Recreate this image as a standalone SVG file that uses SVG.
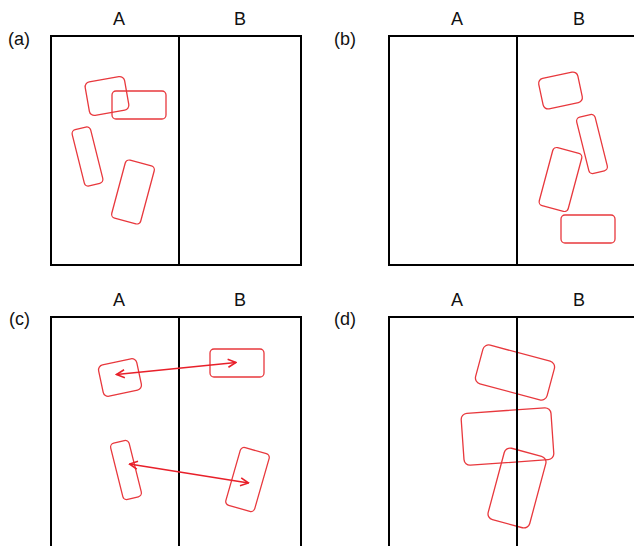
<svg xmlns="http://www.w3.org/2000/svg" width="634" height="546" viewBox="0 0 634 546">
<style>
.lbl{font-family:"Liberation Sans",Arial,sans-serif;font-size:18px;fill:#111;text-anchor:middle}
.tag{font-family:"Liberation Sans",Arial,sans-serif;font-size:18px;fill:#111}
.frame{fill:none;stroke:#000;stroke-width:2}
.div{stroke:#000;stroke-width:2}
.obj{fill:none;stroke:#e8383d;stroke-width:1.3}
.conn{fill:none;stroke:#e8202a;stroke-width:1.6}
</style>
<defs>
<marker id="ah" viewBox="0 0 10 10" refX="9" refY="5" markerWidth="10" markerHeight="10" markerUnits="userSpaceOnUse" orient="auto-start-reverse">
<path d="M1,1 L9,5 L1,9" fill="none" stroke="#e8202a" stroke-width="1.6"/>
</marker>
</defs>
<rect width="634" height="546" fill="#fff"/>

<g id="panel-a">
<text class="tag" x="8" y="45">(a)</text>
<text class="lbl" x="119" y="25">A</text>
<text class="lbl" x="240" y="25">B</text>
<g id="a-obj1"><rect class="obj" x="-20" y="-17" width="40" height="34" rx="5" transform="translate(107 96) rotate(-10)"/></g>
<g id="a-obj2"><rect class="obj" x="112" y="91" width="54" height="28" rx="4"/></g>
<g id="a-obj3"><rect class="obj" x="-9.5" y="-29" width="19" height="58" rx="4" transform="translate(87.5 156.5) rotate(-14)"/></g>
<g id="a-obj4"><rect class="obj" x="-15" y="-30" width="30" height="60" rx="4" transform="translate(133 192) rotate(15)"/></g>
<rect class="frame" x="51" y="36" width="250" height="229"/>
<line class="div" x1="179" y1="36" x2="179" y2="265"/>
</g>

<g id="panel-b">
<text class="tag" x="334" y="45">(b)</text>
<text class="lbl" x="457" y="25">A</text>
<text class="lbl" x="579" y="25">B</text>
<g id="b-obj1"><rect class="obj" x="-20" y="-15.5" width="40" height="31" rx="5" transform="translate(560.5 90.5) rotate(-12)"/></g>
<g id="b-obj2"><rect class="obj" x="-9.5" y="-29" width="19" height="58" rx="4" transform="translate(592 144) rotate(-14)"/></g>
<g id="b-obj3"><rect class="obj" x="-15" y="-30" width="30" height="60" rx="4" transform="translate(560.5 179.5) rotate(15)"/></g>
<g id="b-obj4"><rect class="obj" x="561" y="215" width="54" height="28" rx="4"/></g>
<rect class="frame" x="389" y="36" width="260" height="229"/>
<line class="div" x1="517" y1="36" x2="517" y2="265"/>
</g>

<g id="panel-c">
<text class="tag" x="9" y="325">(c)</text>
<text class="lbl" x="119" y="306">A</text>
<text class="lbl" x="240" y="306">B</text>
<g id="c-obj1"><rect class="obj" x="-19.5" y="-16" width="39" height="32" rx="5" transform="translate(120 377.5) rotate(-12)"/></g>
<g id="c-obj2"><rect class="obj" x="210" y="349" width="54" height="28" rx="4"/></g>
<g id="c-obj3"><rect class="obj" x="-9.5" y="-29" width="19" height="58" rx="4" transform="translate(126 470) rotate(-14)"/></g>
<g id="c-obj4"><rect class="obj" x="-15" y="-30" width="30" height="60" rx="4" transform="translate(247.5 479.5) rotate(16)"/></g>
<rect class="frame" x="51" y="317" width="250" height="240"/>
<line class="div" x1="179" y1="317" x2="179" y2="546"/>
</g>

<g id="panel-d">
<text class="tag" x="334" y="325">(d)</text>
<text class="lbl" x="457" y="306">A</text>
<text class="lbl" x="579" y="306">B</text>
<g id="d-obj1"><rect class="obj" x="-37" y="-20" width="74" height="40" rx="6" transform="translate(515 372.5) rotate(15)"/></g>
<g id="d-obj2"><rect class="obj" x="-45" y="-26" width="90" height="52" rx="6" transform="translate(507.5 436.5) rotate(-4)"/></g>
<g id="d-obj3"><rect class="obj" x="-21.5" y="-37" width="43" height="74" rx="6" transform="translate(517 488) rotate(15)"/></g>
<rect class="frame" x="389" y="317" width="260" height="240"/>
<line class="div" x1="517" y1="317" x2="517" y2="546"/>
</g>

<g id="connectors">
<line class="conn" x1="116.5" y1="374.5" x2="236" y2="362.5" marker-start="url(#ah)" marker-end="url(#ah)"/>
<line class="conn" x1="129.5" y1="464" x2="248.5" y2="483" marker-start="url(#ah)" marker-end="url(#ah)"/>
</g>
</svg>
